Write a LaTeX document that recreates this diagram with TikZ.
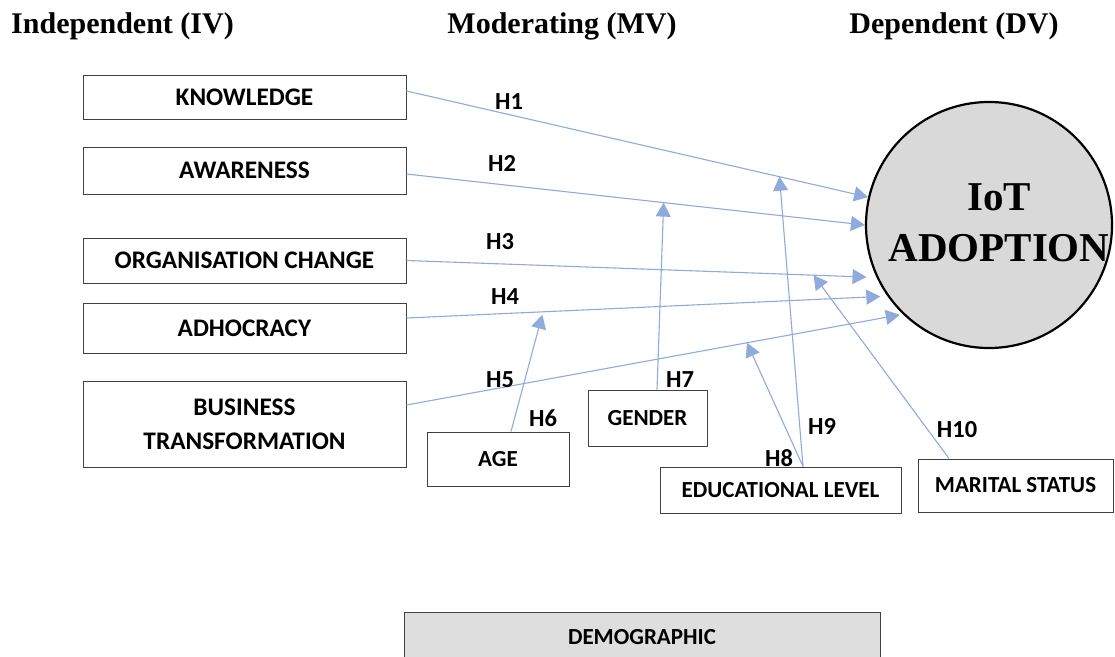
\documentclass[tikz,border=0pt]{standalone}
\usepackage{fontspec}
\setmainfont{Liberation Serif}
\newfontfamily\calibri{Carlito}
\usepackage{xcolor}
\usetikzlibrary{arrows.meta, calc}

\definecolor{linkblue}{RGB}{143,170,220}

\begin{document}
\begin{tikzpicture}[x=1pt, y=-1pt,
    heading/.style={font=\bfseries\fontsize{30}{36}\selectfont, anchor=base, inner sep=0pt},
    factor/.style={draw=black!75, line width=1pt, minimum width=323pt, inner sep=0pt, align=center, font=\calibri\bfseries\fontsize{23}{34}\selectfont},
    ivfactor/.style={factor, font=\calibri\bfseries\fontsize{25.3}{34}\selectfont},
    demo/.style={factor, fill=gray!26},
    hyp/.style={font=\calibri\bfseries\fontsize{24.5}{28}\selectfont, inner sep=0pt},
    arr/.style={-{Triangle[length=14pt, width=15pt]}, draw=linkblue, line width=1.1pt}
]
    \useasboundingbox (0,0) rectangle (1115,656);

    \node[heading] (ivhead) at (122.5,33) {Independent (IV)};
    \node[heading] (mvhead) at (562,33)   {Moderating (MV)};
    \node[heading] (dvhead) at (954,33)   {Dependent (DV)};

    \node[ivfactor, minimum height=44pt] (know)  at (244.5,97)  {KNOWLEDGE};
    \node[ivfactor, minimum height=47pt] (aware) at (244.5,170.5) {AWARENESS};
    \node[ivfactor, minimum height=45pt] (org)   at (244.5,260.5) {ORGANISATION CHANGE};
    \node[ivfactor, minimum height=50pt] (adhoc) at (244.5,328) {ADHOCRACY};
    \node[ivfactor, minimum height=86pt] (bus)   at (244.5,424) {BUSINESS\\TRANSFORMATION};

    \node[circle, draw, line width=2.2pt, fill=gray!30, minimum size=246pt] (iot) at (989,225) {};
    \node[font=\bfseries\fontsize{41}{51}\selectfont, align=center] (iottext) at (999,223) {IoT\\ADOPTION};

    \node[factor, minimum width=142pt, minimum height=54pt] (age)     at (498,459)    {AGE};
    \node[factor, minimum width=119pt, minimum height=56pt] (gender)  at (647.5,418)  {GENDER};
    \node[factor, minimum width=241pt, minimum height=46pt] (edu)     at (780.5,490)  {EDUCATIONAL LEVEL};
    \node[factor, minimum width=195pt, minimum height=53pt] (marital) at (1015.5,485.5) {MARITAL STATUS};
    \node[demo, minimum width=476pt, minimum height=50pt] (demog)     at (642,637)    {DEMOGRAPHIC};

    \draw[arr] ([yshift=6pt]know.east)   -- coordinate[pos=0.808] (k1) (iot.167);
    \draw[arr] ([yshift=-3.5pt]aware.east) -- coordinate[pos=0.561] (a1) (iot.180);
    \draw[arr, shorten >=10pt] (org.east) -- coordinate[pos=0.866] (o1) (iot.205);
    \draw[arr, shorten >=7pt] ([yshift=10pt]adhoc.east) -- coordinate[pos=0.284] (d1) (iot.215);
    \draw[arr, shorten >=3pt] ([yshift=19pt]bus.east) -- coordinate[pos=0.686] (b1) (iot.226);

    \draw[arr, shorten >=3pt] ([xshift=13pt]age.north) -- (d1);
    \draw[arr] ([xshift=9.5pt]gender.north) -- (a1);
    \draw[arr] ([xshift=22.5pt]edu.north) -- (b1);
    \draw[arr] ([xshift=22.5pt]edu.north) -- (k1);
    \draw[arr] ([xshift=-66.5pt]marital.north) -- (o1);

    \node[hyp] (h1)  at (509,102) {H1};
    \node[hyp] (h2)  at (502,163) {H2};
    \node[hyp] (h3)  at (500,242) {H3};
    \node[hyp] (h4)  at (505,297) {H4};
    \node[hyp] (h5)  at (500,380) {H5};
    \node[hyp] (h6)  at (543,418) {H6};
    \node[hyp] (h7)  at (680,380) {H7};
    \node[hyp] (h8)  at (779,458) {H8};
    \node[hyp] (h9)  at (822,426) {H9};
    \node[hyp] (h10) at (957,430) {H10};
\end{tikzpicture}
\end{document}
